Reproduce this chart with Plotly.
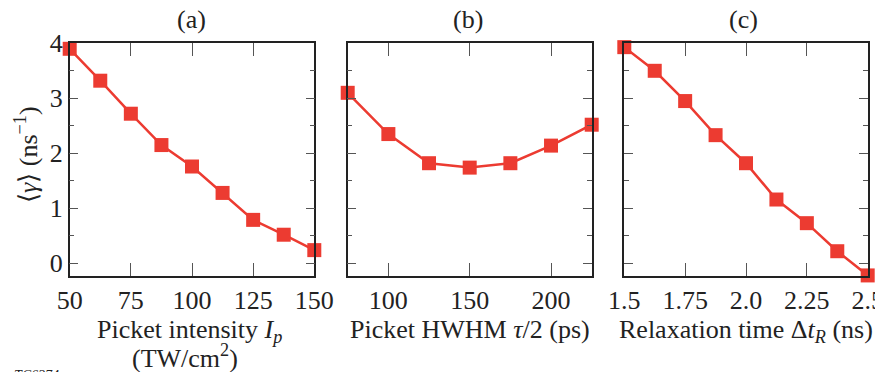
import plotly.graph_objects as go
from plotly.subplots import make_subplots

# ---- data ----
intensity = [50, 62.5, 75, 87.5, 100, 112.5, 125, 137.5, 150]
gamma_a = [3.90, 3.32, 2.72, 2.15, 1.76, 1.28, 0.79, 0.52, 0.24]

hwhm = [75, 100, 125, 150, 175, 200, 225]
gamma_b = [3.10, 2.35, 1.82, 1.74, 1.82, 2.14, 2.52]

relax = [1.5, 1.625, 1.75, 1.875, 2.0, 2.125, 2.25, 2.375, 2.5]
gamma_c = [3.93, 3.50, 2.95, 2.33, 1.82, 1.16, 0.73, 0.22, -0.22]

ticks_a = [50, 75, 100, 125, 150]
ticks_b = [100, 150, 200]
ticks_c = [1.5, 1.75, 2.0, 2.25, 2.5]
ticktext_c = ["1.5", "1.75", "2.0", "2.25", "2.5"]
ticks_y = [0, 1, 2, 3, 4]

OFF = 8  # page body margin
W, H = 883 - OFF, 372 - OFF
RED = "#EC3B31"
FONT = "Liberation Serif, Times New Roman, serif"
INK = "#222"
FS = 26

fig = make_subplots(rows=1, cols=3)

for i, (xs, ys) in enumerate([(intensity, gamma_a), (hwhm, gamma_b), (relax, gamma_c)], start=1):
    fig.add_trace(go.Scatter(x=xs, y=ys, mode="lines+markers",
                             line=dict(color=RED, width=2.5),
                             marker=dict(symbol="square", size=14, color=RED),
                             cliponaxis=False, showlegend=False), row=1, col=i)

def fx(px):
    return (px - OFF) / W

def fy(py):
    return 1 - (py - OFF) / H

YMIN, YMAX = -0.225, 4.0
ydom = [fy(275.7), fy(43.3)]
xdoms = [[fx(69.7), fx(314.3)], [fx(347.7), fx(591.7)], [fx(624.3), fx(867.7)]]
xranges = [[50, 150], [75, 225], [1.5, 2.5]]
xticks = [(ticks_a, [str(t) for t in ticks_a]), (ticks_b, [str(t) for t in ticks_b]), (ticks_c, ticktext_c)]

for i in range(3):
    n = "" if i == 0 else str(i + 1)
    fig.layout["xaxis" + n].update(
        domain=xdoms[i], range=xranges[i], tickvals=xticks[i][0], ticktext=xticks[i][1],
        ticks="inside", ticklen=13, tickwidth=1.3, tickcolor="#555",
        showline=True, linecolor=INK, linewidth=1.5, mirror="allticks",
        showgrid=False, zeroline=False, automargin=False, ticklabeloverflow="allow",
        tickfont=dict(family=FONT, size=FS, color=INK))
    fig.layout["yaxis" + n].update(
        domain=ydom, range=[YMIN, YMAX], tickvals=ticks_y,
        ticks="inside", ticklen=9, tickwidth=1.3, tickcolor="#555",
        minor=dict(dtick=0.5, ticks="inside", ticklen=5, tickwidth=1.3, tickcolor="#555", showgrid=False),
        showline=True, linecolor=INK, linewidth=1.5, mirror="allticks",
        showgrid=False, zeroline=False, automargin=False, showticklabels=(i == 0),
        ticklabeloverflow="allow",
        tickfont=dict(family=FONT, size=FS, color=INK))

ann = []
def px_ann(text, x, y, size=FS, **kw):
    d = dict(text=text, x=fx(x), y=fy(y), xref="paper", yref="paper",
             xanchor="center", yanchor="middle",
             showarrow=False, font=dict(family=FONT, size=size, color=INK))
    d.update(kw)
    ann.append(d)

px_ann("(a)", 191, 20)
px_ann("(b)", 468, 20)
px_ann("(c)", 743, 20)
px_ann("Picket intensity <i>I</i><sub><i>p</i></sub>", 189, 331)
px_ann("(TW/cm<sup>2</sup>)", 185, 356)
px_ann("Picket HWHM <i>τ</i>/2 (ps)", 470, 329)
px_ann("Relaxation time Δ<i>t</i><sub><i>R</i></sub> (ns)", 746, 331)
px_ann("⟨<i>γ</i>⟩ (ns<sup>−1</sup>)", 26, 155, textangle=-90)
px_ann("<i>TC6274</i>", 12, 366, size=14, xanchor="left", yanchor="top")

fig.update_layout(width=W, height=H, margin=dict(l=0, r=0, t=0, b=0),
                  plot_bgcolor="white", paper_bgcolor="white", annotations=ann,
                  font=dict(family=FONT))

fig.write_html("out.html")
